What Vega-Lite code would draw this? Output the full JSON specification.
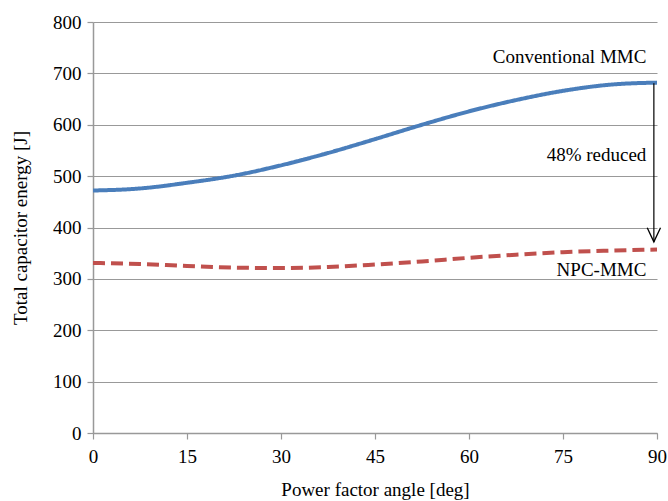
{
  "$schema": "https://vega.github.io/schema/vega-lite/v6.json",
  "width": 564,
  "height": 411,
  "autosize": {"type": "none"},
  "padding": {"left": 93, "top": 22, "right": 11, "bottom": 68},
  "background": "white",
  "config": {
    "view": {"stroke": null},
    "font": "Times New Roman",
    "axis": {
      "labelFont": "Times New Roman",
      "titleFont": "Times New Roman",
      "labelFontSize": 19,
      "titleFontSize": 19,
      "titleFontWeight": "normal",
      "labelColor": "black",
      "titleColor": "black",
      "domainColor": "#999999",
      "tickColor": "#999999",
      "gridColor": "#999999",
      "gridOpacity": 1,
      "domainWidth": 1.5,
      "gridWidth": 1.2,
      "tickWidth": 1.2,
      "tickSize": 6
    }
  },
  "datasets": {
    "curves": [
      {"angle": 0, "energy": 472, "series": "Conventional MMC"},
      {"angle": 7.5, "energy": 476, "series": "Conventional MMC"},
      {"angle": 15, "energy": 487, "series": "Conventional MMC"},
      {"angle": 22.5, "energy": 501, "series": "Conventional MMC"},
      {"angle": 30, "energy": 521, "series": "Conventional MMC"},
      {"angle": 37.5, "energy": 545, "series": "Conventional MMC"},
      {"angle": 45, "energy": 572, "series": "Conventional MMC"},
      {"angle": 52.5, "energy": 600, "series": "Conventional MMC"},
      {"angle": 60, "energy": 626, "series": "Conventional MMC"},
      {"angle": 67.5, "energy": 648, "series": "Conventional MMC"},
      {"angle": 75, "energy": 666, "series": "Conventional MMC"},
      {"angle": 82.5, "energy": 678, "series": "Conventional MMC"},
      {"angle": 90, "energy": 682, "series": "Conventional MMC"},
      {"angle": 0, "energy": 331, "series": "NPC-MMC"},
      {"angle": 7.5, "energy": 329, "series": "NPC-MMC"},
      {"angle": 15, "energy": 325, "series": "NPC-MMC"},
      {"angle": 22.5, "energy": 322, "series": "NPC-MMC"},
      {"angle": 30, "energy": 321, "series": "NPC-MMC"},
      {"angle": 37.5, "energy": 323, "series": "NPC-MMC"},
      {"angle": 45, "energy": 328, "series": "NPC-MMC"},
      {"angle": 52.5, "energy": 334, "series": "NPC-MMC"},
      {"angle": 60, "energy": 341, "series": "NPC-MMC"},
      {"angle": 67.5, "energy": 347, "series": "NPC-MMC"},
      {"angle": 75, "energy": 352, "series": "NPC-MMC"},
      {"angle": 82.5, "energy": 355, "series": "NPC-MMC"},
      {"angle": 90, "energy": 357, "series": "NPC-MMC"}
    ],
    "labels": [
      {"angle": 88.3, "energy": 732, "text": "Conventional MMC"},
      {"angle": 88.3, "energy": 541, "text": "48% reduced"},
      {"angle": 88.3, "energy": 317, "text": "NPC-MMC"}
    ],
    "arrow": [
      {"angle": 89.5, "top": 681, "bottom": 372}
    ]
  },
  "layer": [
    {
      "data": {"name": "curves"},
      "mark": {"type": "line", "interpolate": "monotone", "strokeWidth": 4},
      "encoding": {
        "x": {
          "field": "angle", "type": "quantitative",
          "scale": {"domain": [0, 90], "nice": false},
          "axis": {"values": [0, 15, 30, 45, 60, 75, 90], "title": "Power factor angle [deg]", "grid": false, "labelFlush": false, "labelPadding": 8, "titlePadding": 14}
        },
        "y": {
          "field": "energy", "type": "quantitative",
          "scale": {"domain": [0, 800], "nice": false},
          "axis": {"values": [0, 100, 200, 300, 400, 500, 600, 700, 800], "title": "Total capacitor energy [J]", "grid": true, "labelFlush": false, "labelPadding": 6, "titlePadding": 22}
        },
        "color": {
          "field": "series", "type": "nominal",
          "scale": {"domain": ["Conventional MMC", "NPC-MMC"], "range": ["#4a7ebb", "#c0504d"]},
          "legend": null
        },
        "strokeDash": {
          "field": "series", "type": "nominal",
          "scale": {"domain": ["Conventional MMC", "NPC-MMC"], "range": [[1, 0], [12, 6]]},
          "legend": null
        }
      }
    },
    {
      "data": {"name": "arrow"},
      "mark": {"type": "rule", "color": "black", "strokeWidth": 1.2},
      "encoding": {
        "x": {"field": "angle", "type": "quantitative"},
        "y": {"field": "top", "type": "quantitative"},
        "y2": {"field": "bottom"}
      }
    },
    {
      "data": {"name": "arrow"},
      "mark": {"type": "point", "shape": "M-0.7,-1.5L0,0L0.7,-1.5", "filled": false, "color": "black", "strokeWidth": 1.3, "size": 360, "opacity": 1},
      "encoding": {
        "x": {"field": "angle", "type": "quantitative"},
        "y": {"field": "bottom", "type": "quantitative"}
      }
    },
    {
      "data": {"name": "labels"},
      "mark": {"type": "text", "align": "right", "baseline": "middle", "fontSize": 19, "font": "Times New Roman", "color": "black"},
      "encoding": {
        "x": {"field": "angle", "type": "quantitative"},
        "y": {"field": "energy", "type": "quantitative"},
        "text": {"field": "text"}
      }
    }
  ]
}
